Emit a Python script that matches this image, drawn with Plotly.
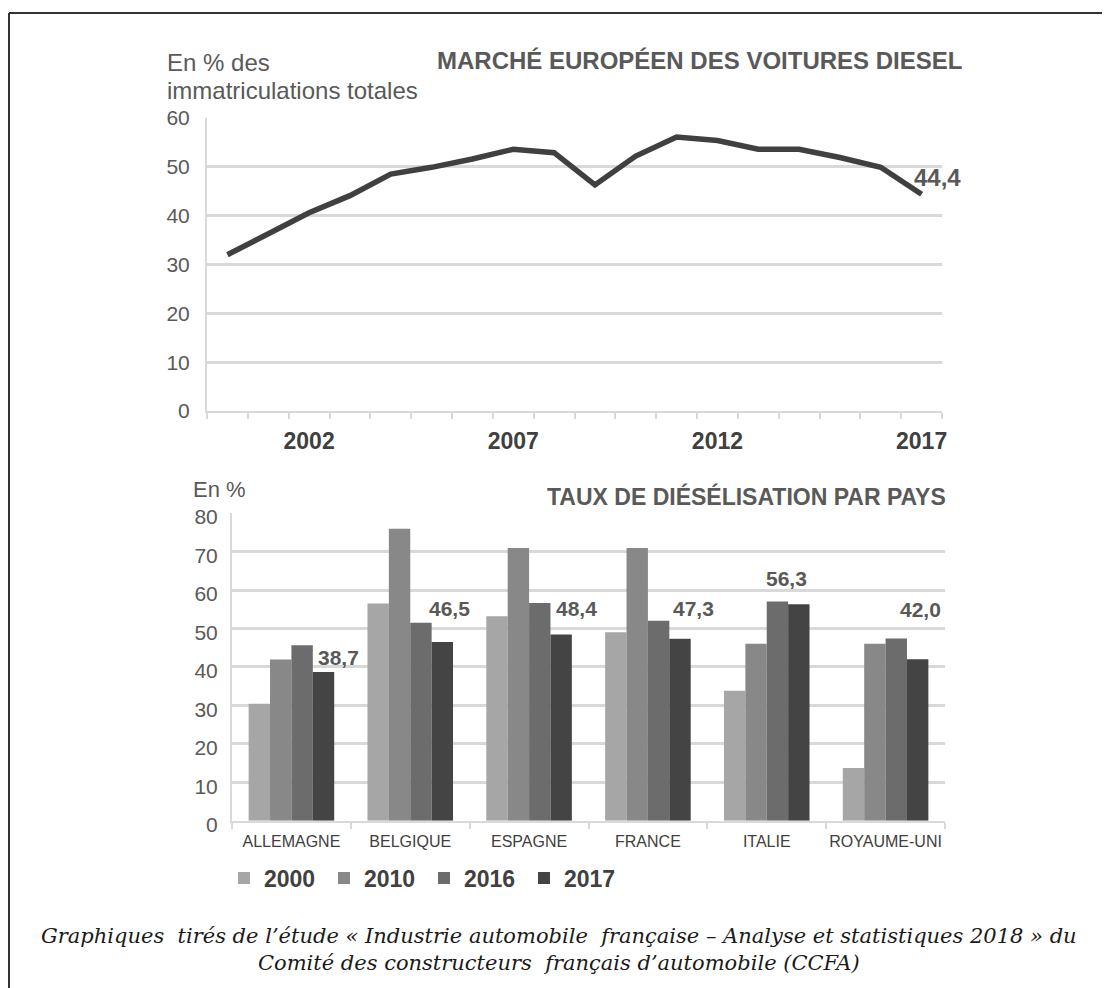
import plotly.graph_objects as go

# ---------------- data ----------------
years = list(range(2000, 2018))
diesel_share = [32.0, 36.3, 40.6, 44.1, 48.5, 49.9, 51.6, 53.6, 52.9, 46.3,
                52.2, 56.1, 55.4, 53.6, 53.6, 51.9, 49.9, 44.4]
year_ticks = [2002, 2007, 2012, 2017]

countries = ["ALLEMAGNE", "BELGIQUE", "ESPAGNE", "FRANCE", "ITALIE", "ROYAUME-UNI"]
series_names = ["2000", "2010", "2016", "2017"]
v2000 = [30.4, 56.5, 53.2, 49.0, 33.8, 13.7]
v2010 = [41.9, 75.9, 70.9, 70.9, 46.0, 46.0]
v2016 = [45.6, 51.5, 56.6, 52.0, 57.0, 47.4]
v2017 = [38.7, 46.5, 48.4, 47.3, 56.3, 42.0]
labels_2017 = ["38,7", "46,5", "48,4", "47,3", "56,3", "42,0"]

# ---------------- styles ----------------
W, H = 1110, 988
OFF = 8  # page body margin of the browser
bar_colors = ["#a6a6a6", "#888888", "#6c6c6c", "#444444"]
grid_col = "#d9d9d9"
txt_col = "#595959"
dark_txt = "#404040"
FONT = "Liberation Sans, Arial, sans-serif"
# label offsets (px) for 2017 value labels: (dx, dy)
lab_dx = [15, 7, 15, 14, -12, 3]
lab_dy = [14, 33, 26, 30, 26, 50]


def px(x):
    return (x - OFF) / W


def py(y):
    return 1 - (y - OFF) / H


fig = go.Figure()

# top line chart
fig.add_trace(go.Scatter(
    x=years, y=diesel_share, mode="lines",
    line=dict(color="#404040", width=5.5), showlegend=False,
    xaxis="x", yaxis="y", hoverinfo="skip"))

# bottom bar chart
for name, vals, col in zip(series_names, [v2000, v2010, v2016, v2017], bar_colors):
    fig.add_trace(go.Bar(
        x=countries, y=vals, name=name, marker=dict(color=col, line=dict(width=0)),
        xaxis="x2", yaxis="y2"))

annotations = []
# value label on the last point of the line
annotations.append(dict(
    x=years[-1], y=diesel_share[-1], xref="x", yref="y",
    text=f"{diesel_share[-1]:.1f}".replace(".", ","),
    showarrow=False, xshift=16, yshift=17,
    font=dict(family=FONT, size=24, color=txt_col, weight="bold")))

# value labels on 2017 bars
for c, v, t, dx, dy in zip(countries, v2017, labels_2017, lab_dx, lab_dy):
    annotations.append(dict(
        x=c, y=v, xref="x2", yref="y2", text=t, showarrow=False,
        xshift=32 + dx, yshift=dy,
        font=dict(family=FONT, size=21, color=txt_col, weight="bold")))

# titles / axis captions
annotations += [
    dict(x=px(964), y=py(61), xref="paper", yref="paper", xanchor="right", yanchor="middle",
         text="MARCHÉ EUROPÉEN DES VOITURES DIESEL", showarrow=False,
         font=dict(family=FONT, size=24, color=txt_col, weight="bold")),
    dict(x=px(165), y=py(62), xref="paper", yref="paper", xanchor="left", yanchor="middle",
         text="En % des", showarrow=False,
         font=dict(family=FONT, size=24, color=txt_col)),
    dict(x=px(165), y=py(91), xref="paper", yref="paper", xanchor="left", yanchor="middle",
         text="immatriculations totales", showarrow=False,
         font=dict(family=FONT, size=24, color=txt_col)),
    dict(x=px(948), y=py(496), xref="paper", yref="paper", xanchor="right", yanchor="middle",
         text="TAUX DE DIÉSÉLISATION PAR PAYS", showarrow=False,
         font=dict(family=FONT, size=23, color=txt_col, weight="bold")),
    dict(x=px(191), y=py(489), xref="paper", yref="paper", xanchor="left", yanchor="middle",
         text="En %", showarrow=False,
         font=dict(family=FONT, size=22, color=txt_col)),
    dict(x=px(559), y=py(949), xref="paper", yref="paper", xanchor="center", yanchor="middle",
         text="Graphiques  tirés de l’étude « Industrie automobile  française – Analyse et statistiques 2018 » du"
              "<br>Comité des constructeurs  français d’automobile (CCFA)",
         showarrow=False, align="center",
         font=dict(family="DejaVu Serif, Liberation Serif, serif", size=21, color="#1a1a1a",
                   style="italic")),
]

shapes = [
    dict(type="line", xref="paper", yref="paper", x0=px(9), x1=1.01, y0=py(13), y1=py(13),
         line=dict(color="#333333", width=2)),
    dict(type="line", xref="paper", yref="paper", x0=px(9), x1=px(9), y0=py(13), y1=-0.02,
         line=dict(color="#333333", width=2)),
]

fig.update_layout(
    width=W, height=H, autosize=False,
    margin=dict(l=0, r=0, t=0, b=0),
    paper_bgcolor="white", plot_bgcolor="white",
    font=dict(family=FONT, color=txt_col),
    barmode="group", bargap=0.28, bargroupgap=0,
    xaxis=dict(
        domain=[px(207), px(942)], anchor="y",
        range=[1999.5, 2017.5], tickmode="array", tickvals=year_ticks,
        ticks="", showgrid=False, zeroline=False,
        showline=True, linecolor=grid_col, linewidth=2,
        tickfont=dict(family=FONT, size=23, color=dark_txt, weight="bold"),
        ticklabelstandoff=8,
        minor=dict(tick0=1999.5, dtick=1, ticks="outside", ticklen=6,
                   tickcolor=grid_col, tickwidth=2, showgrid=False),
        automargin=False, fixedrange=True),
    yaxis=dict(
        domain=[py(411), py(118)], anchor="x",
        range=[0, 60], tickmode="array", tickvals=[0, 10, 20, 30, 40, 50, 60],
        showgrid=True, gridcolor=grid_col, gridwidth=3, zeroline=False,
        showline=True, linecolor=grid_col, linewidth=2, ticks="",
        tickfont=dict(family=FONT, size=21, color=txt_col),
        ticklabelstandoff=11, automargin=False, fixedrange=True),
    xaxis2=dict(
        domain=[px(232), px(945)], anchor="y2",
        type="category", tickson="boundaries", ticks="outside", ticklen=6,
        tickcolor=grid_col, tickwidth=2, tickangle=0,
        showgrid=False, zeroline=False,
        showline=True, linecolor=grid_col, linewidth=2,
        tickfont=dict(family=FONT, size=16, color=dark_txt),
        ticklabelstandoff=5, automargin=False, fixedrange=True),
    yaxis2=dict(
        domain=[py(820.7), py(513.1)], anchor="x2",
        range=[0, 80], tickmode="array", tickvals=[0, 10, 20, 30, 40, 50, 60, 70, 80],
        showgrid=True, gridcolor=grid_col, gridwidth=3, zeroline=False,
        showline=True, linecolor=grid_col, linewidth=2, ticks="",
        tickfont=dict(family=FONT, size=21, color=txt_col),
        ticklabelstandoff=8, ticklabelshift=4, automargin=False, fixedrange=True),
    legend=dict(
        orientation="h", x=px(224), y=py(878), xanchor="left", yanchor="middle",
        font=dict(family=FONT, size=23, color=dark_txt, weight="bold"),
        entrywidth=55, entrywidthmode="pixels", bgcolor="rgba(0,0,0,0)",
        traceorder="normal"),
    annotations=annotations,
    shapes=shapes,
)

fig.write_html("out.html")
